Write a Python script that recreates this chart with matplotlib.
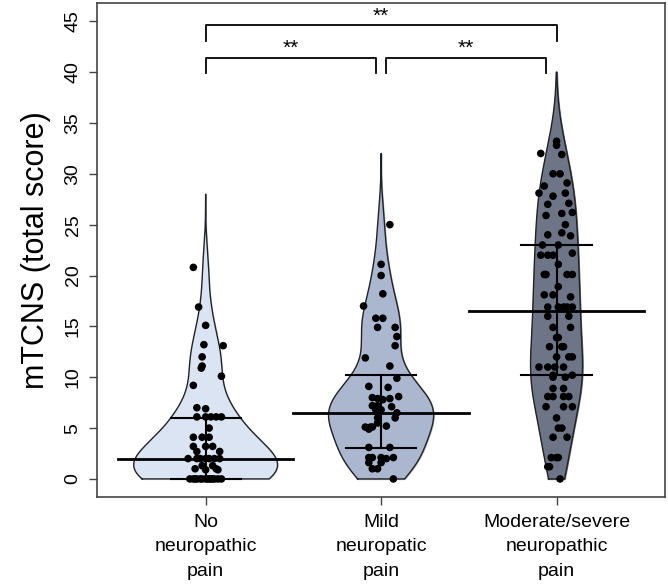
import numpy as np
import matplotlib
matplotlib.use("Agg")
import matplotlib.pyplot as plt

plt.rcParams["font.family"] = ["Liberation Sans", "DejaVu Sans"]

groups = ["No\nneuropathic\npain", "Mild\nneuropatic\npain", "Moderate/severe\nneuropathic\npain"]
colors = ["#dae4f3", "#aab7cf", "#6d7587"]

no_pain = [20.8, 16.9, 15.1, 13.2, 13.1, 12.0, 11.1, 10.9, 10.1, 9.2,
           7.0, 6.9, 6.1, 6.1, 6.1, 6.1, 6.1, 5.0, 4.1, 4.1, 4.1, 3.2, 3.2, 3.2,
           2.7, 2.7, 2.0, 2.0, 2.0, 2.0, 2.0, 2.0, 2.0, 1.3, 1.3, 1.0, 1.0, 0.9, 0.9,
           0, 0, 0, 0, 0, 0, 0, 0, 0, 0, 0, 0, 0, 0]
no_pain_jitter = [-0.07, -0.04, 0.0, -0.01, 0.10, -0.02, -0.02, -0.025, 0.09, -0.07,
                  -0.05, 0.0, -0.05, 0.0, 0.03, 0.06, 0.09, 0.02, -0.07, -0.02, 0.02, -0.07, 0.0, 0.04,
                  -0.05, 0.08, -0.10, -0.05, 0.0, 0.05, 0.08, -0.03, 0.02, -0.02, 0.04, -0.06, 0.06, 0.0, 0.07,
                  -0.09, -0.07, -0.05, -0.03, -0.02, 0.0, 0.01, 0.02, 0.04, 0.05, 0.07, 0.09, -0.06, 0.03]

mild = [25.0, 21.1, 20.0, 18.2, 17.0, 15.8, 15.8, 14.9, 14.9, 14.0, 13.1, 11.9, 11.1,
        9.9, 9.1, 9.0, 8.1, 8.0, 7.9, 7.8, 7.9, 7.2, 7.2, 7.1, 6.8, 6.8, 6.5, 6.0, 6.0,
        5.5, 5.2, 5.1, 5.1, 5.1, 4.9, 3.1, 3.1, 2.1, 2.1, 2.1, 2.1, 2.0, 1.6, 1.6, 1.0, 1.0, 0]
mild_jitter = [0.05, 0.0, 0.0, 0.01, -0.10, -0.03, 0.01, -0.02, 0.08, 0.09, 0.08, -0.09, 0.05,
               0.09, -0.07, 0.04, 0.10, -0.05, -0.02, 0.01, 0.05, -0.05, -0.02, 0.06, -0.03, 0.0, 0.09, -0.02, 0.08,
               -0.02, 0.03, -0.09, -0.06, -0.05, -0.07, -0.07, 0.05, -0.07, -0.05, 0.0, 0.07, 0.03, -0.07, 0.0, -0.05, -0.02, 0.07]

severe = [33.2, 32.8, 32.0, 31.9, 30.0, 30.0, 28.8, 29.1, 28.1, 27.8, 28.1, 27.0, 27.1, 25.9, 26.1, 26.2,
          25.0, 24.0, 24.2, 23.9, 23.0, 23.0, 22.0, 22.0, 22.0, 22.2, 21.1, 20.1, 20.1, 20.1, 20.1,
          18.9, 18.1, 18.1, 17.9, 16.9, 16.9, 16.9, 16.9, 16.9, 16.0, 16.0, 14.9, 14.9, 13.9, 13.9,
          13.0, 13.0, 13.0, 12.0, 12.0, 12.0,
          11.0, 11.0, 11.0, 11.0, 10.2, 10.2, 10.0, 10.0, 8.9, 8.9, 8.1, 8.1, 8.1, 8.1, 7.1, 7.1, 7.1,
          6.0, 5.0, 5.0, 4.1, 4.1, 2.1, 2.1, 2.1, 1.2, 1.2, 0]
severe_jitter = [0.0, 0.0, -0.09, 0.03, -0.02, 0.02, -0.07, 0.06, -0.10, -0.02, 0.05, -0.05, 0.07, -0.06, 0.03, 0.09,
                 0.05, -0.05, 0.03, 0.08, -0.08, 0.01, -0.09, -0.05, -0.02, 0.09, 0.01, -0.07, -0.06, 0.06, 0.09,
                 0.01, -0.07, -0.02, 0.08, -0.05, 0.01, 0.04, 0.06, 0.09, -0.05, 0.07, -0.02, 0.08, 0.0, 0.01,
                 -0.04, 0.03, 0.04, 0.0, 0.07, 0.09,
                 -0.10, -0.05, -0.01, 0.04, -0.02, 0.09, -0.02, 0.05, -0.02, 0.04, -0.05, -0.02, 0.04, 0.07, -0.06, 0.04, 0.09,
                 0.0, 0.01, 0.03, -0.02, 0.06, -0.03, 0.0, 0.01, -0.05, -0.04, 0.02]

medians = [2, 6.5, 16.5]
q1 = [0, 3, 10.25]
q3 = [6, 10.25, 23]
bandwidth = [2.2, 2.3, 3.2]
violin_top = [28, 32, 40]

comparisons = [(1, 3, 43.1, 44.6), (1, 1.97, 39.9, 41.4), (2.03, 2.94, 39.9, 41.4)]

data = [no_pain, mild, severe]
jitter = [no_pain_jitter, mild_jitter, severe_jitter]

fig = plt.figure(figsize=(6.68, 5.85), dpi=100)
ax = fig.add_axes([0.145, 0.15, 0.851, 0.845])

dens = []
grids = []
for vals, h, top in zip(data, bandwidth, violin_top):
    v = np.array(vals)
    g = np.linspace(0, top, 300)
    d = np.exp(-0.5 * ((g[:, None] - v[None, :]) / h) ** 2).sum(axis=1) / (len(v) * h)
    grids.append(g)
    dens.append(d)
k = 0.41 / max(d.max() for d in dens)

for i, (g, d) in enumerate(zip(grids, dens)):
    x = i + 1
    w = d * k
    ax.fill_betweenx(g, x - w, x + w, color=colors[i], zorder=1)
    ax.plot(np.r_[x - w, (x + w)[::-1], x - w[0]], np.r_[g, g[::-1], g[0]], color="#222222", lw=1.0, zorder=2)
    ax.plot([x, x], [q1[i], q3[i]], color="black", lw=1.5, zorder=3)
    ax.plot([x - 0.5, x + 0.5], [medians[i], medians[i]], color="black", lw=2.0, zorder=3)
    ax.plot([x - 0.2, x + 0.2], [q1[i], q1[i]], color="black", lw=1.5, zorder=3)
    ax.plot([x - 0.2, x + 0.2], [q3[i], q3[i]], color="black", lw=1.5, zorder=3)
    ax.scatter(x + np.array(jitter[i]), data[i], s=30, color="black", edgecolors="none", zorder=4)

for x0, x1, y0, y1 in comparisons:
    ax.plot([x0, x0, x1, x1], [y0, y1, y1, y0], color="black", lw=1.3)
    ax.text((x0 + x1) / 2, y1 + 0.9, "**", ha="center", va="center", fontsize=15)

ax.set_xlim(0.38, 3.62)
ax.set_ylim(-1.8, 46.8)
ax.set_xticks([1, 2, 3])
ax.set_xticklabels(groups, fontsize=14, linespacing=1.58)
ax.set_yticks(range(0, 50, 5))
ax.set_yticklabels([str(t) for t in range(0, 50, 5)], rotation=90, va="center", fontsize=14)
ax.set_ylabel("mTCNS (total score)", fontsize=22, labelpad=10)
ax.tick_params(length=6, width=1, color="#444444", pad=5)
ax.tick_params(axis="x", pad=6)
for s in ax.spines.values():
    s.set_color("#444444")
    s.set_linewidth(1.2)

fig.savefig("out.png", dpi=100)
